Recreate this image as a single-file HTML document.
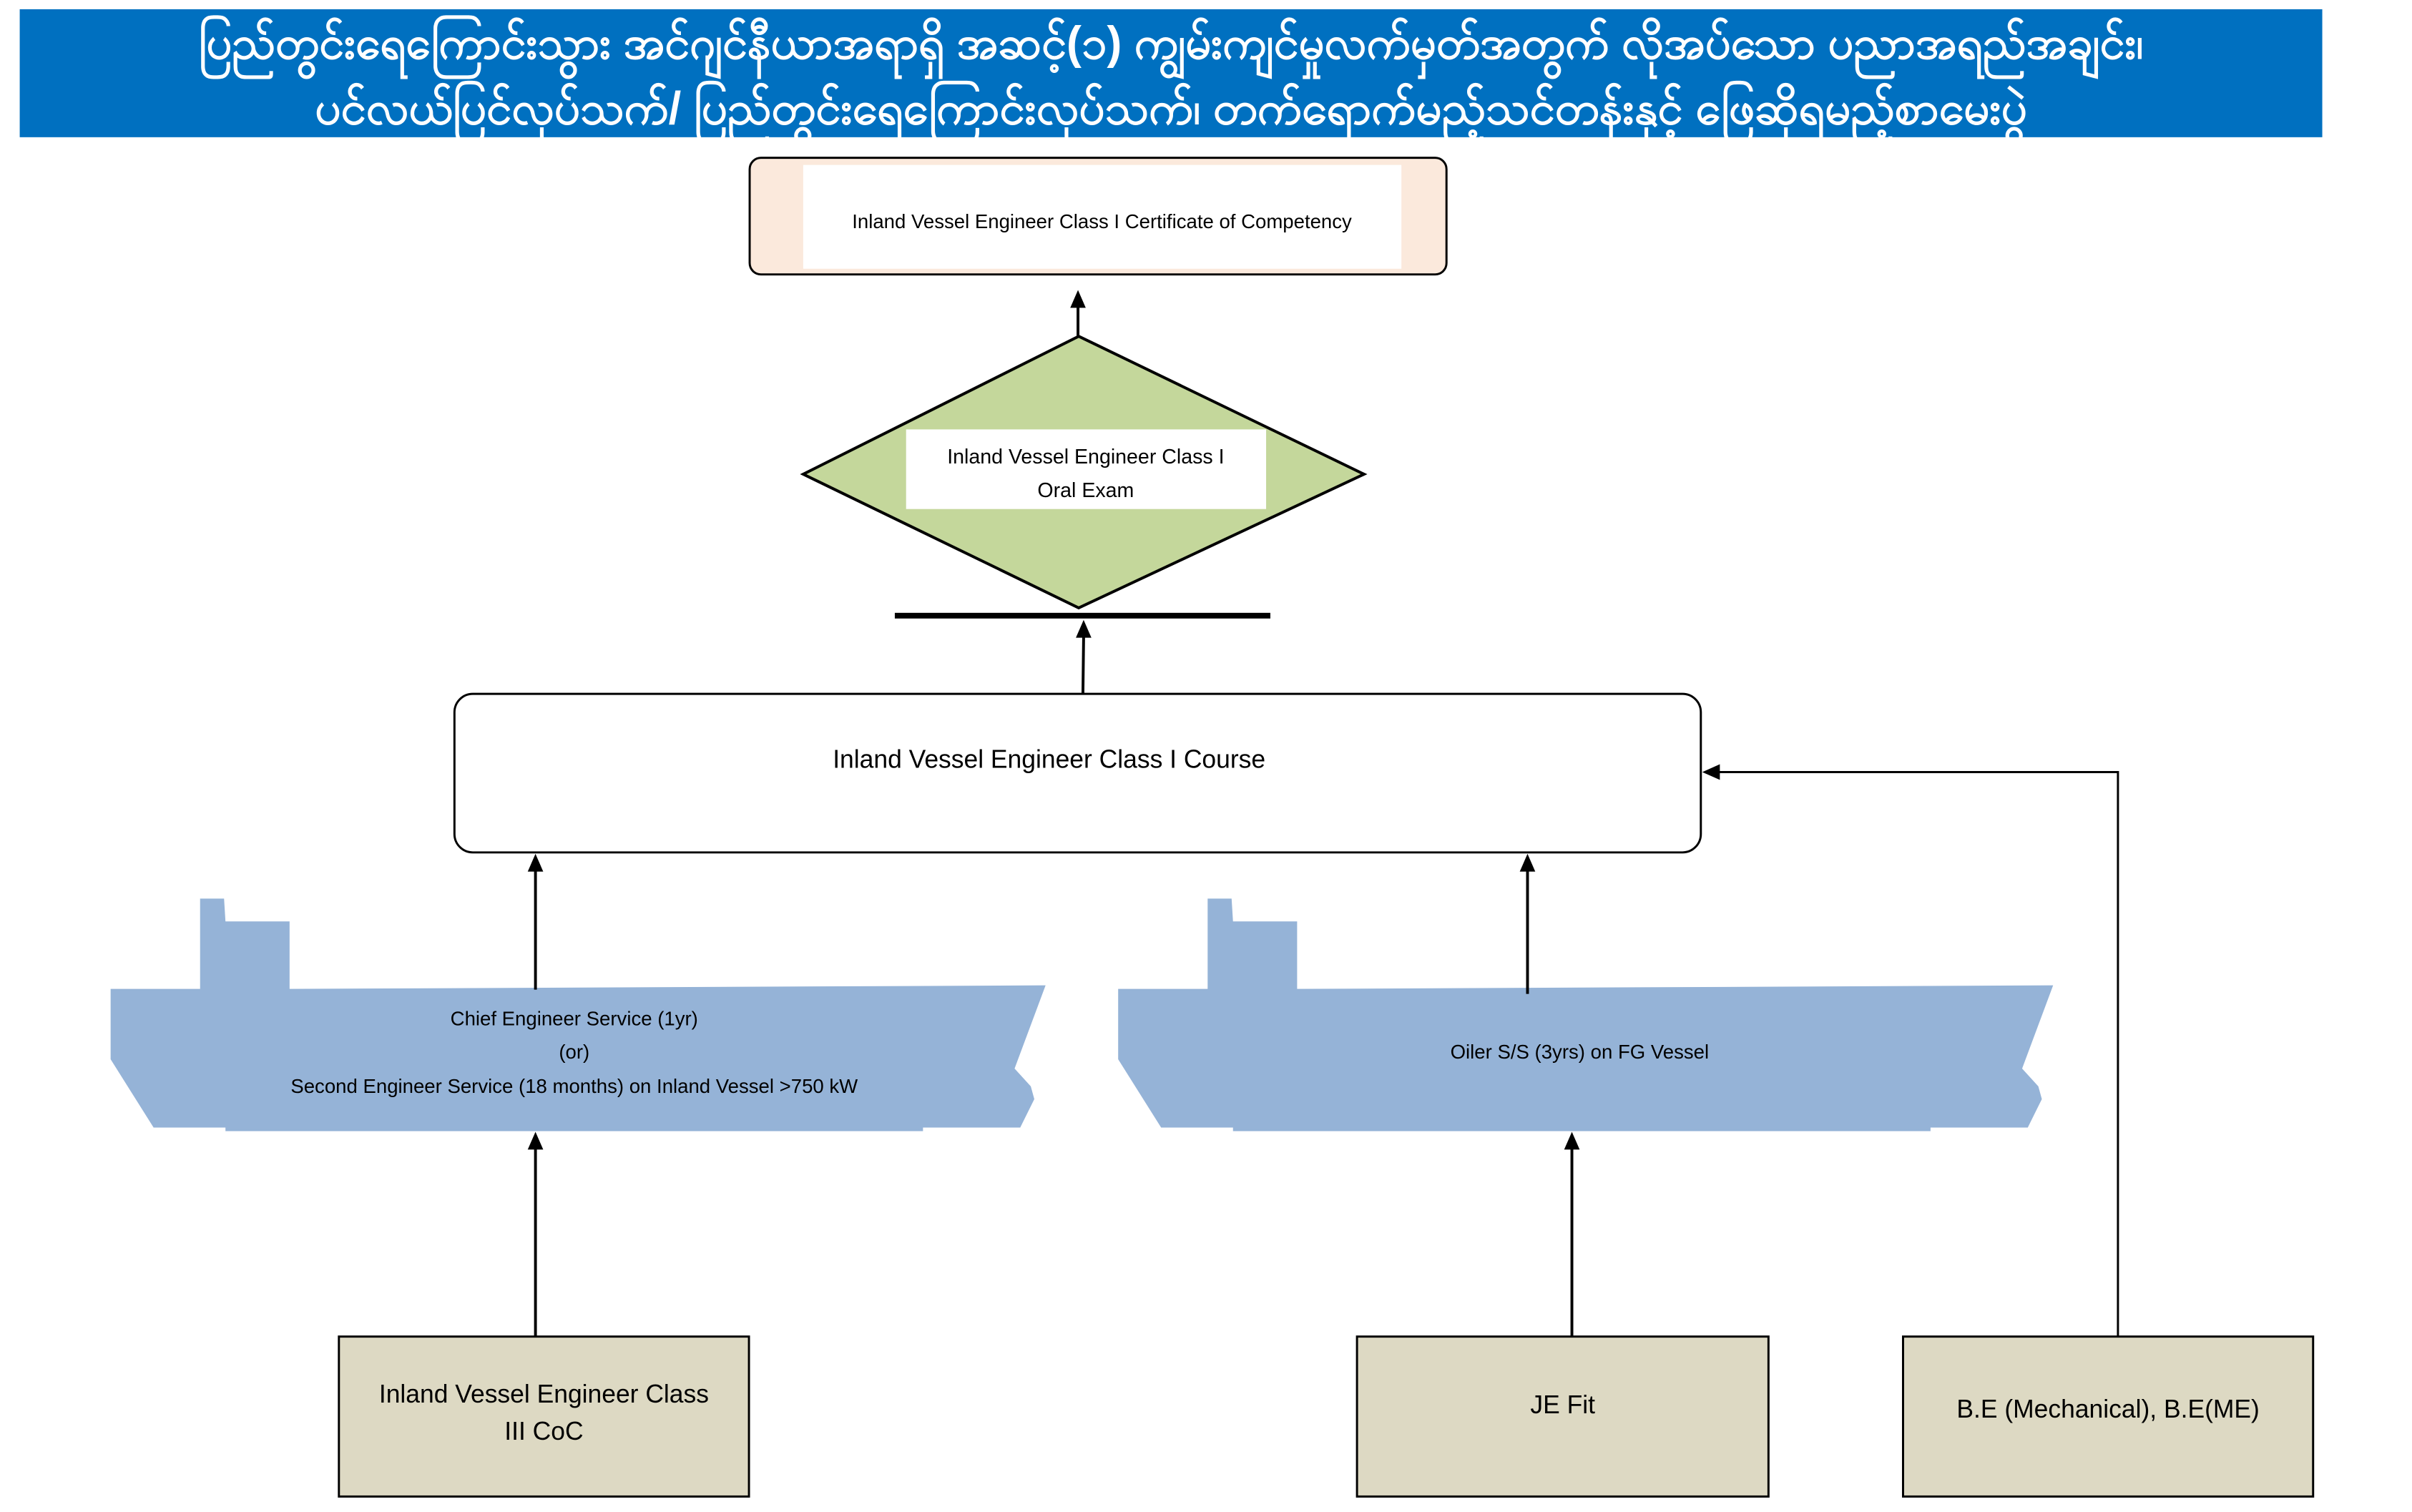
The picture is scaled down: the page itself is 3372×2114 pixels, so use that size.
<!DOCTYPE html>
<html><head><meta charset="utf-8"><style>
html,body{margin:0;padding:0;background:#fff;}
body{width:3372px;height:2109px;overflow:hidden;}
svg text{font-family:"Liberation Sans","DejaVu Sans",sans-serif;}
</style></head><body>
<svg width="3372" height="2109" viewBox="0 0 3372 2109" xmlns="http://www.w3.org/2000/svg">
<g transform="scale(0.985 0.994)">
<rect x="28" y="13" width="3268" height="180" fill="#0070c0"/>
<text x="1662" y="82" font-size="64" font-weight="bold" fill="#fff" text-anchor="middle" textLength="2760" lengthAdjust="spacingAndGlyphs" font-family="'Padauk','Myanmar Text','Noto Sans Myanmar','DejaVu Sans',sans-serif">ပြည်တွင်းရေကြောင်းသွား အင်ဂျင်နီယာအရာရှိ အဆင့်(၁) ကျွမ်းကျင်မှုလက်မှတ်အတွက် လိုအပ်သော ပညာအရည်အချင်း၊</text>
<text x="1662" y="174" font-size="64" font-weight="bold" fill="#fff" text-anchor="middle" textLength="2430" lengthAdjust="spacingAndGlyphs" font-family="'Padauk','Myanmar Text','Noto Sans Myanmar','DejaVu Sans',sans-serif">ပင်လယ်ပြင်လုပ်သက်/ ပြည်တွင်းရေကြောင်းလုပ်သက်၊ တက်ရောက်မည့်သင်တန်းနှင့် ဖြေဆိုရမည့်စာမေးပွဲ</text>

<rect x="1064" y="222" width="989" height="164" rx="16" fill="#fbe9dc" stroke="#000" stroke-width="3"/>
<rect x="1140" y="232" width="849" height="146" fill="#fff"/>
<text x="1564" y="321" font-size="28" text-anchor="middle">Inland Vessel Engineer Class I Certificate of Competency</text>

<line x1="1530" y1="473" x2="1530" y2="430" stroke="#000" stroke-width="4"/>
<polygon points="1530,408 1519,433 1541,433" fill="#000"/>

<polygon points="1531,473 1936,667 1531,855 1140,667" fill="#c4d79b" stroke="#000" stroke-width="4"/>
<rect x="1286" y="604" width="511" height="112" fill="#fff"/>
<text x="1541" y="652" font-size="29" text-anchor="middle">Inland Vessel Engineer Class I</text>
<text x="1541" y="699" font-size="29" text-anchor="middle">Oral Exam</text>

<rect x="1270" y="862" width="533" height="8" fill="#000"/>
<line x1="1537" y1="975" x2="1538" y2="895" stroke="#000" stroke-width="4"/>
<polygon points="1538,872 1527,897 1549,897" fill="#000"/>

<rect x="645" y="976" width="1769" height="223" rx="26" fill="#fff" stroke="#000" stroke-width="3"/>
<text x="1489" y="1080" font-size="36" text-anchor="middle">Inland Vessel Engineer Class I Course</text>

<g id="ship" fill="#95b3d7" transform="translate(0,6)">
<path d="M157,1385 L284,1385 L284,1258 L318,1258 L320,1290 L411,1290 L411,1385 L1484,1380 L1440,1497 L1463,1522 L1468,1540 L1448,1580 L1310,1580 L1310,1585 L320,1585 L320,1580 L218,1580 L157,1484 Z"/>
</g>
<use href="#ship" transform="translate(1430,0)"/>
<text x="815" y="1442" font-size="28" text-anchor="middle">Chief Engineer Service (1yr)</text>
<text x="815" y="1489" font-size="28" text-anchor="middle">(or)</text>
<text x="815" y="1537" font-size="28" text-anchor="middle">Second Engineer Service (18 months) on Inland Vessel &gt;750 kW</text>
<text x="2242" y="1489" font-size="28" text-anchor="middle">Oiler S/S (3yrs) on FG Vessel</text>

<line x1="760" y1="1392" x2="760" y2="1225" stroke="#000" stroke-width="4"/>
<polygon points="760,1201 749,1226 771,1226" fill="#000"/>
<line x1="2168" y1="1398" x2="2168" y2="1225" stroke="#000" stroke-width="4"/>
<polygon points="2168,1201 2157,1226 2179,1226" fill="#000"/>

<line x1="760" y1="1880" x2="760" y2="1616" stroke="#000" stroke-width="4"/>
<polygon points="760,1592 749,1617 771,1617" fill="#000"/>
<line x1="2231" y1="1880" x2="2231" y2="1616" stroke="#000" stroke-width="4"/>
<polygon points="2231,1592 2220,1617 2242,1617" fill="#000"/>

<polyline points="3006,1880 3006,1086 2440,1086" fill="none" stroke="#000" stroke-width="3"/>
<polygon points="2416,1086 2441,1075 2441,1097" fill="#000"/>

<rect x="481" y="1880" width="582" height="225" fill="#ddd9c3" stroke="#000" stroke-width="3"/>
<text x="772" y="1973" font-size="36" text-anchor="middle">Inland Vessel Engineer Class</text>
<text x="772" y="2025" font-size="36" text-anchor="middle">III CoC</text>
<rect x="1926" y="1880" width="584" height="225" fill="#ddd9c3" stroke="#000" stroke-width="3"/>
<text x="2218" y="1988" font-size="36" text-anchor="middle">JE Fit</text>
<rect x="2701" y="1880" width="582" height="225" fill="#ddd9c3" stroke="#000" stroke-width="3"/>
<text x="2992" y="1994" font-size="36" text-anchor="middle">B.E (Mechanical), B.E(ME)</text>
</g>
</svg>
</body></html>
